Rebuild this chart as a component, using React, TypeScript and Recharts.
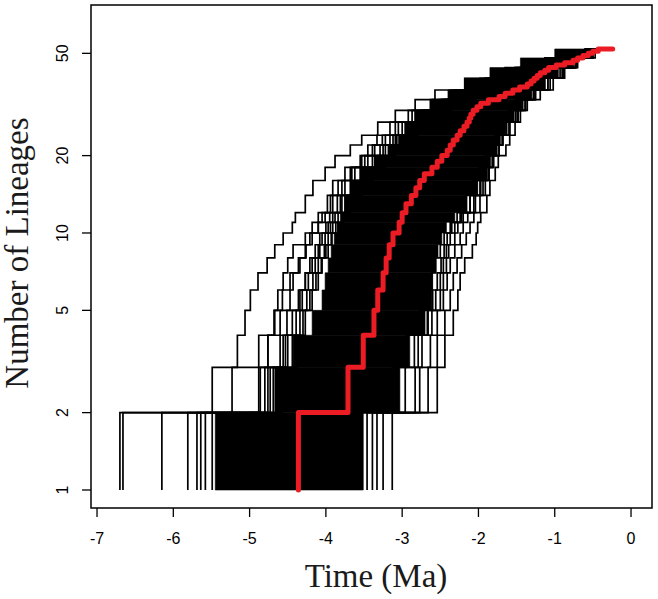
import React from 'react';
import { LineChart, Line, XAxis, YAxis, ReferenceArea } from 'recharts';

const X_TICKS = [-7, -6, -5, -4, -3, -2, -1, 0];
const Y_TICKS = [1, 2, 5, 10, 20, 50];
const X_DOMAIN: [number, number] = [-7.079, 0.275];
const Y_DOMAIN: [number, number] = [0.851, 77.1];
const PRESENT = -0.24;

// lineage-count levels used for the outlying (fringe) trees and the dense core bands
const LEVELS = [1, 2, 3, 4, 5, 6, 7, 8, 9, 10, 11, 12, 14, 16, 18, 20, 22, 24, 27, 30, 33, 36, 40, 44, 48, 52];

// times (Ma) at which each fringe tree reaches LEVELS[1..]
const TREE_A = [-6.70, -5.49, -5.16, -5.06, -4.99, -4.89, -4.77, -4.67, -4.56, -4.44, -4.40, -4.27, -4.17, -4.01, -3.88, -3.68, -3.53, -3.32, -3.09, -2.83, -2.57, -2.18, -1.65, -1.13, -0.60];
const TREE_B = [-6.66, -4.86, -4.76, -4.67, -4.63, -4.56, -4.50, -4.43, -4.27, -4.18, -4.10, -3.98, -3.91, -3.75, -3.55, -3.45, -3.33, -3.16, -2.92, -2.63, -2.37, -1.98, -1.52, -1.09, -0.60];
const TREE_C = [-5.64, -4.76, -4.60, -4.51, -4.47, -4.43, -4.34, -4.26, -4.21, -4.10, -4.05, -3.94, -3.84, -3.68, -3.53, -3.39, -3.26, -3.09, -2.87, -2.60, -2.31, -1.91, -1.48, -1.04, -0.56];
const TREE_D = [-6.15, -5.23, -4.88, -4.68, -4.57, -4.47, -4.36, -4.27, -4.18, -4.10, -4.01, -3.91, -3.79, -3.66, -3.49, -3.36, -3.22, -3.05, -2.83, -2.53, -2.24, -1.87, -1.45, -1.02, -0.56];
const TREE_E = [-5.81, -4.88, -4.76, -4.60, -4.36, -4.27, -4.21, -4.14, -4.08, -4.00, -3.95, -3.85, -3.75, -3.62, -3.45, -3.29, -3.16, -3.00, -2.77, -2.50, -2.21, -1.85, -1.43, -1.00, -0.56];
const TREE_F = [-5.69, -4.73, -4.56, -4.44, -4.34, -4.27, -4.18, -4.10, -4.05, -3.97, -3.91, -3.81, -3.68, -3.55, -3.39, -3.25, -3.12, -2.96, -2.74, -2.46, -2.18, -1.82, -1.39, -0.97, -0.55];
const TREE_G = [-5.58, -4.69, -4.50, -4.39, -4.31, -4.23, -4.14, -4.08, -4.01, -3.94, -3.88, -3.79, -3.66, -3.51, -3.36, -3.22, -3.09, -2.92, -2.70, -2.44, -2.14, -1.78, -1.36, -0.96, -0.54];
const TREE_H = [-5.49, -4.64, -4.44, -4.34, -4.25, -4.17, -4.10, -4.02, -3.97, -3.91, -3.84, -3.75, -3.62, -3.45, -3.29, -3.16, -3.03, -2.87, -2.66, -2.41, -2.11, -1.74, -1.32, -0.93, -0.52];
const TREE_I = [-5.26, -4.80, -4.53, -4.27, -4.21, -4.13, -4.06, -4.00, -3.93, -3.87, -3.79, -3.71, -3.59, -3.49, -3.32, -3.18, -3.07, -2.90, -2.70, -2.48, -2.21, -1.91, -1.52, -1.06, -0.58];
const TREE_J = [-4.99, -4.57, -4.38, -4.30, -4.18, -4.10, -4.05, -3.97, -3.92, -3.84, -3.77, -3.68, -3.53, -3.39, -3.22, -3.09, -2.99, -2.79, -2.57, -2.35, -2.04, -1.72, -1.28, -0.87, -0.51];
const TREE_S1 = [-3.62, -3.05, -2.84, -2.67, -2.60, -2.54, -2.49, -2.45, -2.41, -2.35, -2.28, -2.11, -1.98, -1.87, -1.80, -1.73, -1.68, -1.59, -1.48, -1.38, -1.25, -1.06, -0.89, -0.72, -0.50];
const TREE_S2 = [-3.75, -3.13, -2.95, -2.77, -2.66, -2.61, -2.56, -2.50, -2.45, -2.37, -2.20, -2.06, -1.94, -1.89, -1.82, -1.76, -1.69, -1.60, -1.49, -1.39, -1.26, -1.09, -0.90, -0.73, -0.51];
const TREE_R1 = [-3.13, -2.54, -2.44, -2.33, -2.27, -2.24, -2.18, -2.08, -2.03, -2.01, -1.97, -1.89, -1.85, -1.78, -1.74, -1.64, -1.59, -1.52, -1.45, -1.36, -1.19, -1.02, -0.87, -0.70, -0.47];
const TREE_R2 = [-3.25, -2.66, -2.54, -2.44, -2.37, -2.33, -2.28, -2.22, -2.16, -2.11, -2.06, -1.98, -1.91, -1.86, -1.81, -1.73, -1.68, -1.59, -1.51, -1.42, -1.28, -1.09, -0.90, -0.73, -0.50];
const TREE_R3 = [-3.33, -2.77, -2.63, -2.54, -2.46, -2.41, -2.37, -2.31, -2.24, -2.20, -2.14, -2.04, -1.97, -1.91, -1.85, -1.78, -1.72, -1.63, -1.55, -1.45, -1.32, -1.13, -0.93, -0.76, -0.51];
const TREE_R4 = [-3.39, -2.83, -2.74, -2.61, -2.50, -2.46, -2.42, -2.39, -2.31, -2.27, -2.22, -2.11, -2.02, -1.95, -1.89, -1.82, -1.76, -1.66, -1.59, -1.48, -1.35, -1.15, -0.96, -0.77, -0.52];
const TREE_R5 = [-3.46, -2.96, -2.79, -2.66, -2.56, -2.50, -2.46, -2.42, -2.37, -2.31, -2.24, -2.16, -2.07, -1.99, -1.91, -1.85, -1.78, -1.69, -1.61, -1.51, -1.36, -1.17, -0.98, -0.79, -0.54];

const FRINGE = [TREE_A, TREE_B, TREE_C, TREE_D, TREE_E, TREE_F, TREE_G, TREE_H, TREE_I, TREE_J, TREE_S1, TREE_S2, TREE_R1, TREE_R2, TREE_R3, TREE_R4, TREE_R5];

// dense overlap of the many simulated trees: time span of solid black for each band LEVELS[k]..LEVELS[k+1]
const CORE_LEFT = [-5.45, -4.67, -4.43, -4.18, -4.05, -4.01, -3.97, -3.93, -3.89, -3.85, -3.81, -3.75, -3.67, -3.55, -3.36, -3.18, -3.05, -2.96, -2.83, -2.63, -2.40, -2.18, -1.85, -1.45, -1.00];
const CORE_RIGHT = [-3.51, -3.03, -2.90, -2.70, -2.61, -2.60, -2.56, -2.53, -2.48, -2.42, -2.31, -2.15, -2.01, -1.90, -1.85, -1.77, -1.72, -1.64, -1.53, -1.43, -1.30, -1.13, -0.96, -0.77, -0.51];

// observed tree (red): times at which lineage count reaches RED_N
const RED_N = [2, 3, 4, 5, 6, 7, 8, 9, 10, 11, 12, 13, 14, 15, 16, 17, 18, 19, 20, 21, 22, 23, 24, 25, 26, 27, 28, 29, 30, 31, 32, 33, 34, 35, 36, 37, 38, 39, 40, 41, 42, 43, 44, 45, 46, 47, 48, 49, 50, 51, 52];
const RED_T = [-4.36, -3.71, -3.51, -3.37, -3.32, -3.25, -3.21, -3.17, -3.12, -3.04, -3.00, -2.95, -2.88, -2.82, -2.77, -2.71, -2.61, -2.54, -2.48, -2.41, -2.37, -2.33, -2.28, -2.24, -2.19, -2.15, -2.12, -2.10, -2.07, -2.02, -1.97, -1.87, -1.73, -1.65, -1.55, -1.46, -1.36, -1.31, -1.27, -1.23, -1.19, -1.13, -1.08, -0.98, -0.87, -0.76, -0.70, -0.63, -0.56, -0.50, -0.43];

function toSteps(times: number[], levels: number[]) {
  const pts = [{ t: times[0], n: 1 }];
  times.forEach((t, i) => pts.push({ t, n: levels[i] }));
  pts.push({ t: PRESENT, n: levels[levels.length - 1] });
  return pts;
}

const SANS = "'Liberation Sans', Arial, Helvetica, sans-serif";
const SERIF = "'Liberation Serif', 'Times New Roman', Times, serif";

const YTick = (props: any) => {
  const { x, y, payload } = props;
  return (
    <text x={x} y={y} transform={`rotate(-90 ${x} ${y})`} textAnchor="middle" fontSize={16} fontFamily={SANS} fill="#000">
      {payload.value}
    </text>
  );
};

const XTitle = () => (
  <text x={376} y={587} textAnchor="middle" fontSize={33} fontFamily={SERIF} fill="#1a1a1a">
    Time (Ma)
  </text>
);

const YTitle = () => (
  <text x={28} y={253} transform="rotate(-90 28 253)" textAnchor="middle" fontSize={33} fontFamily={SERIF} fill="#1a1a1a">
    Number of Lineages
  </text>
);

export default function App() {
  const fringeLevels = LEVELS.slice(1);
  return (
    <div style={{ position: 'absolute', left: 0, top: 0, background: '#fff' }}>
      <LineChart width={658} height={599} margin={{ top: 5, right: 6, bottom: 0, left: 0 }}>
        <XAxis
          type="number"
          dataKey="t"
          domain={X_DOMAIN}
          allowDataOverflow
          ticks={X_TICKS}
          interval={0}
          axisLine={false}
          tickLine={{ stroke: '#000', strokeWidth: 1.3 }}
          tickSize={9}
          tickMargin={16}
          tick={{ fill: '#000', fontSize: 16, fontFamily: SANS }}
          height={91}
          label={<XTitle />}
        />
        <YAxis
          type="number"
          dataKey="n"
          scale="log"
          domain={Y_DOMAIN}
          allowDataOverflow
          ticks={Y_TICKS}
          interval={0}
          axisLine={false}
          tickLine={{ stroke: '#000', strokeWidth: 1.3 }}
          tickSize={9}
          tickMargin={14}
          tick={<YTick />}
          width={91}
          label={<YTitle />}
        />
        {CORE_LEFT.map((l, k) => (
          <ReferenceArea
            key={`core-${k}`}
            x1={l}
            x2={CORE_RIGHT[k]}
            y1={LEVELS[k]}
            y2={LEVELS[k + 1]}
            fill="#000"
            fillOpacity={1}
            stroke="#000"
            strokeWidth={0.6}
            ifOverflow="visible"
          />
        ))}
        {FRINGE.map((times, i) => (
          <Line
            key={`tree-${i}`}
            data={toSteps(times, fringeLevels)}
            dataKey="n"
            type="stepAfter"
            stroke="#000"
            strokeWidth={1.7}
            dot={false}
            activeDot={false}
            isAnimationActive={false}
          />
        ))}
        <Line
          data={toSteps(RED_T, RED_N)}
          dataKey="n"
          type="stepAfter"
          stroke="#ec1c24"
          strokeWidth={5}
          strokeLinecap="round"
          strokeLinejoin="round"
          dot={false}
          activeDot={false}
          isAnimationActive={false}
        />
        <ReferenceArea
          x1={X_DOMAIN[0]}
          x2={X_DOMAIN[1]}
          y1={Y_DOMAIN[0]}
          y2={Y_DOMAIN[1]}
          fill="none"
          fillOpacity={0}
          stroke="#000"
          strokeWidth={1.5}
          ifOverflow="visible"
        />
      </LineChart>
    </div>
  );
}
